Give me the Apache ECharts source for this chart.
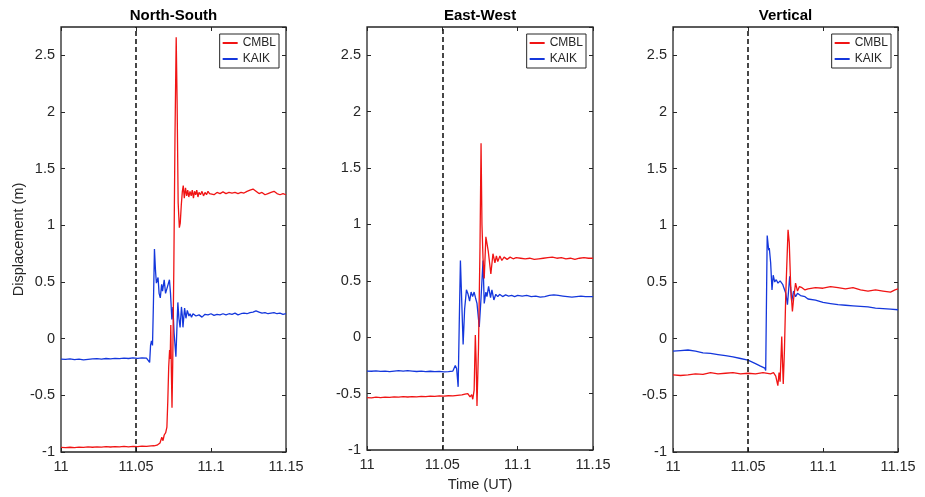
<!DOCTYPE html>
<html><head><meta charset="utf-8">
<script src="https://cdn.jsdelivr.net/npm/echarts@6/dist/echarts.min.js"></script>
<style>html,body{margin:0;padding:0;background:#fff}#c{width:925px;height:497px}</style>
</head><body><div id="c"></div>
<script>
const panelTitles = ['North-South', 'East-West', 'Vertical'];
const stations = ['CMBL', 'KAIK'];
const xMin = 11, xMax = 11.15, xStep = 0.05;
const yMin = -1, yMax = 2.75, yStep = 0.5;
const eventTime = 11.05;
const xName = 'Time (UT)';
const yName = 'Displacement (m)';

// North-South
const nsCMBL = [[11.000,-0.960],[11.003,-0.962],[11.006,-0.958],[11.009,-0.961],[11.012,-0.957],[11.015,-0.959],[11.018,-0.955],[11.021,-0.958],[11.024,-0.954],[11.027,-0.957],[11.030,-0.953],[11.033,-0.956],[11.036,-0.952],[11.039,-0.955],[11.042,-0.951],[11.045,-0.954],[11.048,-0.950],[11.051,-0.953],[11.054,-0.949],[11.057,-0.951],[11.060,-0.946],[11.062,-0.945],[11.064,-0.940],[11.066,-0.920],[11.0672,-0.870],[11.0680,-0.900],[11.0688,-0.850],[11.0698,-0.830],[11.0706,-0.780],[11.0712,-0.550],[11.0718,-0.250],[11.0724,-0.100],[11.0728,-0.180],[11.0732,0.120],[11.0736,-0.300],[11.0740,-0.610],[11.0745,-0.200],[11.0752,0.600],[11.0760,1.800],[11.0768,2.660],[11.0774,2.100],[11.0781,1.200],[11.0789,0.980],[11.0795,1.020],[11.0802,1.180],[11.0809,1.300],[11.0815,1.350],[11.0822,1.240],[11.0830,1.330],[11.0838,1.260],[11.0845,1.310],[11.0852,1.250],[11.0860,1.300],[11.0868,1.260],[11.0875,1.310],[11.0883,1.240],[11.0890,1.300],[11.0898,1.270],[11.0905,1.310],[11.0913,1.250],[11.0920,1.290],[11.0930,1.270],[11.0940,1.300],[11.0950,1.260],[11.0960,1.290],[11.0970,1.270],[11.0980,1.300],[11.0990,1.280],[11.100,1.290],[11.102,1.270],[11.104,1.290],[11.106,1.280],[11.108,1.295],[11.110,1.280],[11.112,1.290],[11.114,1.285],[11.116,1.290],[11.118,1.280],[11.120,1.290],[11.122,1.285],[11.124,1.300],[11.126,1.310],[11.128,1.320],[11.130,1.300],[11.132,1.280],[11.134,1.290],[11.136,1.270],[11.138,1.280],[11.140,1.290],[11.142,1.300],[11.144,1.280],[11.146,1.270],[11.148,1.280],[11.150,1.270]];
const nsKAIK = [[11.000,-0.180],[11.003,-0.182],[11.006,-0.178],[11.009,-0.185],[11.012,-0.181],[11.015,-0.188],[11.018,-0.183],[11.021,-0.179],[11.024,-0.176],[11.027,-0.180],[11.030,-0.175],[11.033,-0.178],[11.036,-0.173],[11.039,-0.176],[11.042,-0.172],[11.045,-0.175],[11.048,-0.170],[11.051,-0.173],[11.054,-0.169],[11.057,-0.171],[11.0583,-0.165],[11.0591,-0.210],[11.0597,-0.060],[11.0603,-0.020],[11.0610,-0.060],[11.0616,0.300],[11.0623,0.790],[11.0630,0.600],[11.0636,0.490],[11.0647,0.540],[11.0654,0.400],[11.0662,0.360],[11.0671,0.480],[11.0677,0.420],[11.0688,0.520],[11.0697,0.400],[11.0708,0.450],[11.0723,0.520],[11.0730,0.400],[11.0739,0.170],[11.0746,0.280],[11.0754,0.050],[11.0766,-0.160],[11.0773,0.100],[11.0779,0.320],[11.0786,0.180],[11.0794,0.100],[11.0803,0.280],[11.0809,0.200],[11.0813,0.100],[11.0824,0.270],[11.0833,0.180],[11.0842,0.250],[11.0853,0.200],[11.0860,0.220],[11.0870,0.190],[11.0880,0.220],[11.090,0.200],[11.092,0.210],[11.094,0.190],[11.096,0.215],[11.098,0.210],[11.100,0.220],[11.102,0.205],[11.104,0.215],[11.106,0.210],[11.108,0.220],[11.110,0.210],[11.112,0.220],[11.114,0.215],[11.116,0.225],[11.118,0.210],[11.120,0.220],[11.122,0.225],[11.124,0.220],[11.126,0.230],[11.128,0.235],[11.130,0.245],[11.132,0.235],[11.134,0.225],[11.136,0.230],[11.138,0.220],[11.140,0.225],[11.142,0.230],[11.144,0.220],[11.146,0.225],[11.148,0.215],[11.150,0.220]];

// East-West
const ewCMBL = [[11.000,-0.535],[11.003,-0.538],[11.006,-0.532],[11.009,-0.536],[11.012,-0.531],[11.015,-0.534],[11.018,-0.529],[11.021,-0.532],[11.024,-0.527],[11.027,-0.530],[11.030,-0.526],[11.033,-0.529],[11.036,-0.524],[11.039,-0.527],[11.042,-0.522],[11.045,-0.525],[11.048,-0.521],[11.051,-0.523],[11.054,-0.519],[11.057,-0.521],[11.060,-0.516],[11.063,-0.512],[11.065,-0.505],[11.0669,-0.500],[11.0684,-0.530],[11.0695,-0.510],[11.0702,-0.550],[11.0711,-0.470],[11.0719,0.020],[11.0724,-0.200],[11.0730,-0.610],[11.0740,-0.100],[11.0750,0.800],[11.0757,1.720],[11.0763,1.000],[11.0770,0.700],[11.0778,0.520],[11.0789,0.890],[11.0805,0.760],[11.0822,0.560],[11.0836,0.740],[11.0849,0.660],[11.0859,0.720],[11.0868,0.670],[11.0882,0.720],[11.0895,0.680],[11.091,0.710],[11.093,0.690],[11.095,0.710],[11.097,0.695],[11.099,0.705],[11.102,0.700],[11.105,0.695],[11.108,0.700],[11.111,0.690],[11.114,0.695],[11.117,0.700],[11.120,0.705],[11.123,0.710],[11.126,0.700],[11.129,0.705],[11.132,0.695],[11.135,0.700],[11.138,0.690],[11.141,0.700],[11.144,0.705],[11.147,0.700],[11.150,0.700]];
const ewKAIK = [[11.000,-0.300],[11.003,-0.302],[11.006,-0.298],[11.009,-0.303],[11.012,-0.300],[11.015,-0.305],[11.018,-0.301],[11.021,-0.297],[11.024,-0.300],[11.027,-0.296],[11.030,-0.300],[11.033,-0.304],[11.036,-0.301],[11.039,-0.305],[11.042,-0.302],[11.045,-0.306],[11.048,-0.303],[11.051,-0.307],[11.054,-0.305],[11.057,-0.300],[11.0586,-0.250],[11.0595,-0.280],[11.0605,-0.440],[11.0612,0.100],[11.0620,0.680],[11.0628,0.350],[11.0638,-0.065],[11.0648,0.250],[11.0660,0.420],[11.0671,0.380],[11.0681,0.320],[11.0691,0.400],[11.0701,0.360],[11.0711,0.400],[11.0720,0.350],[11.0730,0.300],[11.0745,0.090],[11.0757,0.350],[11.0770,0.680],[11.0778,0.300],[11.0789,0.400],[11.0796,0.360],[11.0807,0.450],[11.0820,0.350],[11.0829,0.420],[11.0842,0.330],[11.0855,0.380],[11.0868,0.360],[11.088,0.380],[11.090,0.360],[11.092,0.375],[11.094,0.365],[11.096,0.370],[11.098,0.360],[11.100,0.370],[11.103,0.365],[11.106,0.370],[11.109,0.360],[11.112,0.365],[11.115,0.355],[11.118,0.360],[11.121,0.370],[11.124,0.375],[11.127,0.370],[11.130,0.365],[11.133,0.360],[11.136,0.355],[11.139,0.360],[11.142,0.365],[11.145,0.360],[11.148,0.360],[11.150,0.360]];

// Vertical
const vtCMBL = [[11.000,-0.320],[11.005,-0.325],[11.010,-0.320],[11.015,-0.310],[11.020,-0.315],[11.025,-0.300],[11.030,-0.310],[11.035,-0.305],[11.040,-0.300],[11.045,-0.310],[11.050,-0.305],[11.055,-0.310],[11.060,-0.300],[11.065,-0.310],[11.0670,-0.300],[11.0685,-0.330],[11.0699,-0.415],[11.0707,-0.300],[11.0714,-0.380],[11.0725,0.020],[11.0730,-0.200],[11.0735,-0.400],[11.0743,-0.100],[11.0752,0.400],[11.0767,0.960],[11.0775,0.850],[11.0785,0.450],[11.0796,0.240],[11.0804,0.350],[11.0817,0.490],[11.0830,0.420],[11.0843,0.460],[11.0860,0.450],[11.088,0.430],[11.090,0.440],[11.095,0.450],[11.100,0.445],[11.105,0.460],[11.110,0.450],[11.115,0.440],[11.120,0.450],[11.125,0.430],[11.130,0.420],[11.135,0.430],[11.140,0.420],[11.145,0.410],[11.148,0.430],[11.150,0.440]];
const vtKAIK = [[11.000,-0.110],[11.005,-0.105],[11.010,-0.100],[11.015,-0.110],[11.020,-0.125],[11.025,-0.130],[11.030,-0.140],[11.035,-0.150],[11.040,-0.160],[11.045,-0.175],[11.050,-0.190],[11.055,-0.220],[11.058,-0.240],[11.0612,-0.260],[11.0618,-0.280],[11.0628,0.910],[11.0638,0.780],[11.0642,0.800],[11.0651,0.670],[11.0660,0.430],[11.0668,0.560],[11.0678,0.500],[11.0688,0.520],[11.0700,0.490],[11.0714,0.510],[11.0731,0.480],[11.0739,0.450],[11.0752,0.400],[11.0763,0.300],[11.0778,0.550],[11.0791,0.330],[11.0804,0.420],[11.0817,0.370],[11.0830,0.400],[11.0850,0.380],[11.088,0.370],[11.090,0.350],[11.095,0.340],[11.100,0.320],[11.105,0.310],[11.110,0.300],[11.115,0.295],[11.120,0.290],[11.125,0.285],[11.130,0.280],[11.135,0.270],[11.140,0.265],[11.145,0.260],[11.150,0.255]];

const panelData = [[nsCMBL, nsKAIK], [ewCMBL, ewKAIK], [vtCMBL, vtKAIK]];
const colors = ['#f01414', '#1437dc'];
const axisColor = '#262626';
const font = 'Liberation Sans, Arial, sans-serif';

const gridBoxes = [{left: 61, width: 225}, {left: 367, width: 226}, {left: 673, width: 225}];
const gridTop = 27, gridHeight = 425;

const option = {
  animation: false,
  backgroundColor: '#fff',
  grid: [], xAxis: [], yAxis: [], series: [], legend: [], graphic: []
};

gridBoxes.forEach((g, i) => {
  option.grid.push({left: g.left, width: g.width, top: gridTop, height: gridHeight,
    show: true, borderColor: axisColor, borderWidth: 1.3, backgroundColor: '#fff'});
  const tick = {show: true, inside: true, length: 4, lineStyle: {color: axisColor, width: 1}};
  const noLine = {show: false, onZero: false};
  // bottom x
  option.xAxis.push({type: 'value', gridIndex: i, position: 'bottom', min: xMin, max: xMax, interval: xStep,
    axisLine: noLine, axisTick: tick, splitLine: {show: false},
    axisLabel: {color: axisColor, fontSize: 14.5, fontFamily: font, margin: 7},
    name: i === 1 ? xName : '', nameLocation: 'middle', nameGap: 27,
    nameTextStyle: {color: axisColor, fontSize: 14.5, fontFamily: font}});
  // top x
  option.xAxis.push({type: 'value', gridIndex: i, position: 'top', min: xMin, max: xMax, interval: xStep,
    axisLine: noLine, axisTick: tick, splitLine: {show: false}, axisLabel: {show: false}});
  // left y
  option.yAxis.push({type: 'value', gridIndex: i, position: 'left', min: yMin, max: yMax, interval: yStep,
    axisLine: noLine, axisTick: tick, splitLine: {show: false},
    axisLabel: {color: axisColor, fontSize: 14.5, fontFamily: font, margin: 6, showMaxLabel: false},
    name: i === 0 ? yName : '', nameLocation: 'middle', nameGap: 33,
    nameTextStyle: {color: axisColor, fontSize: 14.5, fontFamily: font}});
  // right y
  option.yAxis.push({type: 'value', gridIndex: i, position: 'right', min: yMin, max: yMax, interval: yStep,
    axisLine: noLine, axisTick: tick, splitLine: {show: false}, axisLabel: {show: false}});

  stations.forEach((name, k) => {
    const s = {type: 'line', name: name, xAxisIndex: 2 * i, yAxisIndex: 2 * i,
      data: panelData[i][k], symbol: 'none', showSymbol: false,
      lineStyle: {color: colors[k], width: 1.3}, itemStyle: {color: colors[k]}, z: 3 - k};
    if (k === 1) {
      s.markLine = {silent: true, symbol: 'none', label: {show: false},
        lineStyle: {color: '#1a1a1a', width: 1.6, type: [5, 3]},
        data: [{xAxis: eventTime}]};
    }
    option.series.push(s);
  });

  option.legend.push({data: stations, orient: 'vertical', right: 925 - (g.left + g.width - 7), top: 34,
    icon: 'rect', itemWidth: 15, itemHeight: 2, itemGap: 4, padding: [3, 3, 3, 3],
    borderColor: axisColor, borderWidth: 1, backgroundColor: '#fff',
    textStyle: {color: axisColor, fontSize: 12, fontFamily: font}});

  option.graphic.push({type: 'text', x: g.left + g.width / 2, y: 15.5,
    style: {text: panelTitles[i], fill: '#000', font: 'bold 15px ' + font,
      textAlign: 'center', textVerticalAlign: 'middle', align: 'center', verticalAlign: 'middle'}});
});

const chart = echarts.init(document.getElementById('c'), null, {renderer: 'canvas'});
chart.setOption(option);
</script></body></html>
